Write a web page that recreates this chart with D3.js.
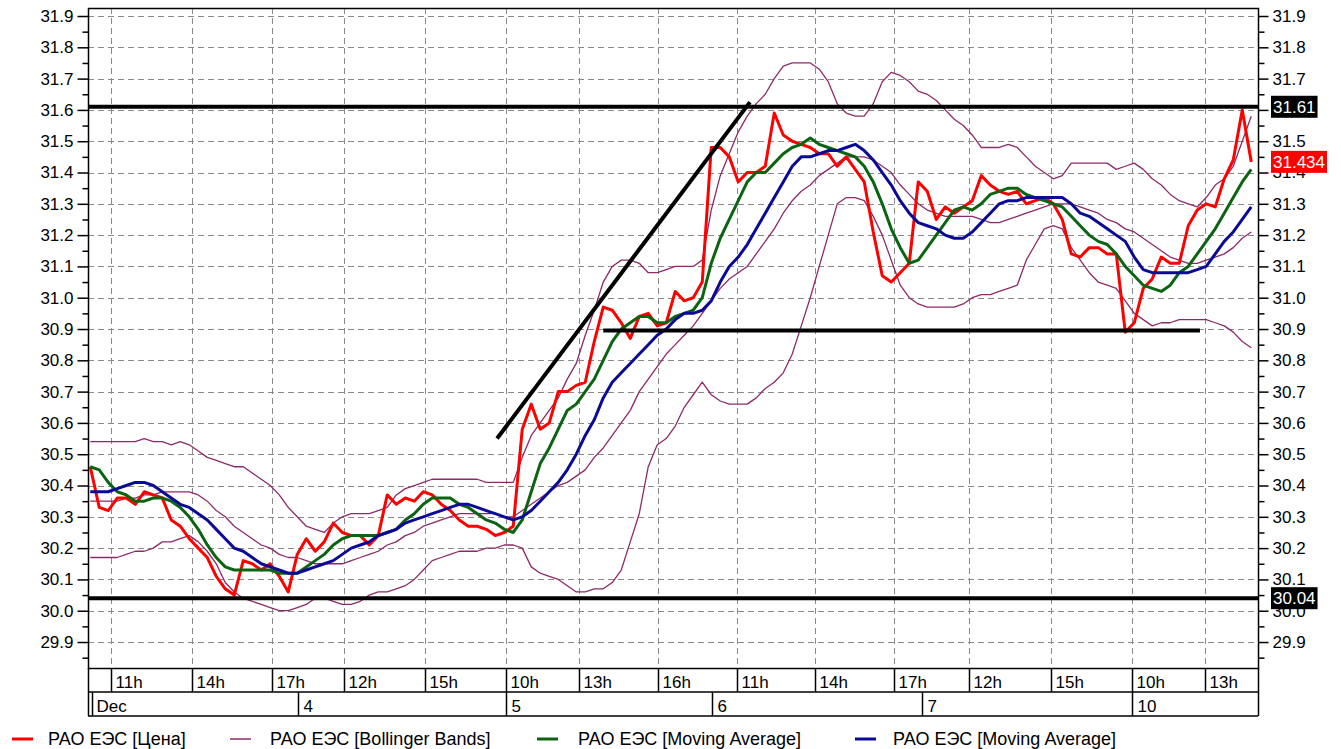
<!DOCTYPE html>
<html>
<head>
<meta charset="utf-8">
<script src="https://cdnjs.cloudflare.com/ajax/libs/d3/7.8.5/d3.min.js"></script>
<style>
body { margin: 0; background: #fff; }
svg text { font-family: "Liberation Sans", Arial, sans-serif; font-size: 17px; fill: #000; }
</style>
</head>
<body>
<svg id="chart" width="1341" height="749"></svg>
<script>
// 20-minute bars, Dec 3 - Dec 10
var price = [30.46,30.33,30.32,30.36,30.36,30.34,30.38,30.37,30.36,30.29,
30.27,30.23,30.20,30.17,30.11,30.07,30.05,30.16,30.15,30.13,
30.15,30.11,30.06,30.18,30.23,30.19,30.22,30.28,30.25,30.24,
30.24,30.21,30.24,30.37,30.34,30.36,30.35,30.38,30.37,30.34,
30.32,30.29,30.27,30.27,30.26,30.24,30.25,30.27,30.58,30.66,
30.58,30.60,30.70,30.70,30.72,30.73,30.86,30.97,30.96,30.92,
30.87,30.94,30.95,30.91,30.92,31.02,30.99,31.00,31.05,31.48,
31.48,31.45,31.37,31.40,31.40,31.42,31.59,31.52,31.50,31.49,
31.48,31.46,31.46,31.42,31.45,31.41,31.37,31.21,31.07,31.05,
31.08,31.11,31.37,31.34,31.25,31.29,31.27,31.29,31.31,31.39,
31.36,31.34,31.33,31.34,31.30,31.31,31.32,31.30,31.25,31.14,
31.13,31.16,31.16,31.14,31.14,30.89,30.92,31.03,31.06,31.13,
31.11,31.11,31.23,31.28,31.30,31.29,31.38,31.44,31.60,31.434];

var bbUpper = [30.54,30.54,30.54,30.54,30.54,30.54,30.55,30.54,30.54,30.53,
30.54,30.53,30.51,30.49,30.48,30.47,30.46,30.46,30.44,30.42,
30.40,30.37,30.33,30.30,30.27,30.26,30.25,30.28,30.30,30.31,
30.31,30.31,30.32,30.33,30.37,30.39,30.40,30.41,30.42,30.42,
30.42,30.42,30.42,30.42,30.41,30.41,30.41,30.41,30.49,30.56,
30.60,30.64,30.68,30.74,30.79,30.88,30.96,31.05,31.10,31.12,
31.12,31.11,31.08,31.08,31.09,31.10,31.10,31.10,31.12,31.28,
31.39,31.46,31.53,31.58,31.62,31.65,31.70,31.74,31.75,31.75,
31.75,31.73,31.69,31.62,31.59,31.58,31.58,31.62,31.69,31.72,
31.71,31.69,31.66,31.65,31.63,31.60,31.57,31.55,31.52,31.48,
31.48,31.48,31.49,31.48,31.45,31.42,31.40,31.38,31.39,31.43,
31.43,31.43,31.43,31.43,31.41,31.42,31.43,31.41,31.38,31.36,
31.33,31.31,31.30,31.29,31.32,31.36,31.38,31.42,31.50,31.58];

var bbMiddle = [30.35,30.35,30.35,30.35,30.36,30.36,30.37,30.37,30.38,30.38,
30.38,30.38,30.37,30.35,30.32,30.30,30.27,30.25,30.23,30.21,
30.20,30.18,30.17,30.17,30.16,30.15,30.15,30.15,30.15,30.16,
30.17,30.18,30.19,30.21,30.22,30.24,30.25,30.27,30.28,30.29,
30.30,30.31,30.31,30.31,30.31,30.31,30.30,30.30,30.32,30.34,
30.36,30.38,30.40,30.41,30.43,30.45,30.49,30.52,30.56,30.60,
30.64,30.70,30.74,30.78,30.82,30.85,30.88,30.91,30.95,30.99,
31.03,31.06,31.08,31.10,31.14,31.18,31.22,31.27,31.31,31.34,
31.36,31.39,31.41,31.43,31.45,31.45,31.45,31.44,31.42,31.40,
31.36,31.33,31.30,31.28,31.27,31.26,31.26,31.26,31.26,31.25,
31.24,31.24,31.25,31.26,31.27,31.28,31.29,31.30,31.30,31.30,
31.29,31.28,31.27,31.25,31.24,31.22,31.21,31.19,31.17,31.15,
31.13,31.12,31.11,31.11,31.12,31.13,31.14,31.16,31.19,31.21];

var bbLower = [30.17,30.17,30.17,30.17,30.18,30.19,30.19,30.20,30.22,30.22,
30.23,30.24,30.22,30.19,30.15,30.09,30.06,30.04,30.03,30.02,
30.01,30.00,30.00,30.01,30.02,30.04,30.04,30.03,30.02,30.02,
30.03,30.05,30.06,30.06,30.07,30.08,30.10,30.13,30.16,30.17,
30.18,30.19,30.19,30.19,30.20,30.20,30.21,30.21,30.20,30.14,
30.12,30.11,30.10,30.08,30.06,30.06,30.07,30.07,30.09,30.13,
30.22,30.31,30.46,30.53,30.55,30.59,30.65,30.69,30.73,30.69,
30.67,30.66,30.66,30.66,30.68,30.71,30.73,30.76,30.82,30.91,
31.00,31.10,31.20,31.30,31.32,31.32,31.31,31.26,31.20,31.12,
31.04,31.00,30.98,30.97,30.97,30.97,30.97,30.98,31.00,31.01,
31.01,31.02,31.03,31.04,31.12,31.17,31.22,31.23,31.22,31.16,
31.12,31.08,31.05,31.04,31.03,30.99,30.95,30.93,30.91,30.92,
30.92,30.93,30.93,30.93,30.93,30.92,30.91,30.89,30.86,30.84];

var maFast = [30.46,30.45,30.41,30.38,30.37,30.35,30.35,30.36,30.36,30.35,
30.33,30.30,30.26,30.21,30.17,30.14,30.13,30.13,30.13,30.13,
30.13,30.12,30.12,30.12,30.14,30.16,30.18,30.21,30.23,30.24,
30.24,30.24,30.24,30.25,30.26,30.29,30.31,30.34,30.36,30.36,
30.36,30.34,30.33,30.31,30.29,30.28,30.26,30.25,30.29,30.38,
30.47,30.52,30.58,30.64,30.66,30.70,30.74,30.80,30.86,30.90,
30.92,30.94,30.94,30.92,30.92,30.94,30.95,30.96,31.00,31.11,
31.19,31.25,31.31,31.37,31.40,31.40,31.43,31.46,31.48,31.49,
31.51,31.49,31.48,31.47,31.46,31.45,31.42,31.37,31.30,31.22,
31.16,31.11,31.12,31.16,31.20,31.24,31.28,31.29,31.28,31.30,
31.33,31.34,31.35,31.35,31.33,31.32,31.31,31.30,31.29,31.26,
31.23,31.20,31.18,31.17,31.14,31.10,31.07,31.04,31.03,31.02,
31.04,31.08,31.10,31.14,31.18,31.22,31.27,31.32,31.37,31.41];

var maSlow = [30.38,30.38,30.38,30.39,30.40,30.41,30.41,30.40,30.38,30.36,
30.34,30.33,30.31,30.29,30.26,30.23,30.20,30.19,30.17,30.15,
30.14,30.13,30.12,30.12,30.13,30.14,30.15,30.16,30.18,30.20,
30.21,30.22,30.24,30.25,30.26,30.28,30.29,30.30,30.31,30.32,
30.33,30.34,30.34,30.33,30.32,30.31,30.30,30.29,30.30,30.32,
30.35,30.38,30.41,30.45,30.50,30.56,30.61,30.68,30.73,30.76,
30.79,30.82,30.85,30.88,30.90,30.93,30.95,30.95,30.96,30.99,
31.05,31.10,31.13,31.17,31.22,31.27,31.32,31.37,31.42,31.45,
31.45,31.46,31.47,31.47,31.48,31.49,31.47,31.44,31.40,31.36,
31.31,31.27,31.24,31.23,31.22,31.20,31.19,31.19,31.21,31.24,
31.27,31.30,31.31,31.31,31.32,31.32,31.32,31.32,31.32,31.30,
31.27,31.26,31.24,31.22,31.20,31.18,31.13,31.09,31.08,31.08,
31.08,31.08,31.08,31.09,31.10,31.14,31.18,31.21,31.25,31.29];

// hand drawn lines (bar index, price)
var levels = [31.61, 30.04];
var supportLine = [[57.0, 30.895], [123.3, 30.895]];
var trendLine = [[45.2, 30.55], [73.3, 31.625]];

var yTicks = [29.9,30.0,30.1,30.2,30.3,30.4,30.5,30.6,30.7,30.8,30.9,31.0,31.1,31.2,31.3,31.4,31.5,31.6,31.7,31.8,31.9];
var yMinor = [29.85,29.95,30.05,30.15,30.25,30.35,30.45,30.55,30.65,30.75,30.85,30.95,31.05,31.15,31.25,31.35,31.45,31.55,31.65,31.75,31.85];

var hourPos = [2.3,11.3,20.2,28.2,37.2,46.2,54.3,63.1,71.9,80.5,89.3,97.6,106.7,115.7,123.9];
var hourLabels = ["11h","14h","17h","12h","15h","10h","13h","16h","11h","14h","17h","12h","15h","10h","13h"];
var dayPos = [-0.25,23.1,46.2,69.1,92.4,115.8];
var dayLabels = ["Dec","4","5","6","7","10"];

var markers = [
	{ value: 31.61, text: "31.61", color: "#000" },
	{ value: 31.434, text: "31.434", color: "#ff0000" },
	{ value: 30.04, text: "30.04", color: "#000" }
];

var legendNames = ["РАО ЕЭС [Цена]", "РАО ЕЭС [Bollinger Bands]", "РАО ЕЭС [Moving Average]", "РАО ЕЭС [Moving Average]"];
var legendColors = ["#ff0000", "#8e2a68", "#0b6411", "#0a0a96"];
var legendX = [12, 230, 537, 855];
var legendTextX = [48, 270, 578, 893];

var svg = d3.select("#chart"),
	margin = {top: 8, left: 88, right: 83, bottom: 81},
	width = 1341 - margin.left - margin.right,
	height = 749 - margin.top - margin.bottom;

var x = d3.scaleLinear().domain([-0.25, 129.75]).range([margin.left, margin.left + width]);
var y = d3.scaleLinear().domain([29.817, 31.9256]).range([margin.top + height, margin.top]);

svg.append("defs").append("clipPath").attr("id", "plotclip")
	.append("rect")
	.attr("x", margin.left).attr("y", margin.top)
	.attr("width", width).attr("height", height);

// grid
var grid = svg.append("g").attr("stroke", "#8a8a8a").attr("stroke-width", 1).attr("stroke-dasharray", "6,4");
grid.selectAll(".hg").data(yTicks).enter().append("line")
	.attr("x1", margin.left).attr("x2", margin.left + width)
	.attr("y1", function(d) { return Math.round(y(d)) + 0.5; })
	.attr("y2", function(d) { return Math.round(y(d)) + 0.5; });
grid.selectAll(".vg").data(hourPos).enter().append("line")
	.attr("y1", margin.top).attr("y2", margin.top + height)
	.attr("x1", function(d) { return Math.round(x(d)) + 0.5; })
	.attr("x2", function(d) { return Math.round(x(d)) + 0.5; });

var line = d3.line()
	.x(function(d, i) { return x(i); })
	.y(function(d) { return y(d); });

var plot = svg.append("g").attr("clip-path", "url(#plotclip)");

[bbUpper, bbMiddle, bbLower].forEach(function(s) {
	plot.append("path").datum(s)
		.attr("fill", "none").attr("stroke", legendColors[1])
		.attr("stroke-width", 1.3).attr("stroke-linejoin", "round")
		.attr("d", line);
});
plot.append("path").datum(price)
	.attr("fill", "none").attr("stroke", legendColors[0])
	.attr("stroke-width", 3).attr("stroke-linejoin", "round")
	.attr("d", line);
plot.append("path").datum(maFast)
	.attr("fill", "none").attr("stroke", legendColors[2])
	.attr("stroke-width", 3).attr("stroke-linejoin", "round")
	.attr("d", line);
plot.append("path").datum(maSlow)
	.attr("fill", "none").attr("stroke", legendColors[3])
	.attr("stroke-width", 3).attr("stroke-linejoin", "round")
	.attr("d", line);

// drawn annotations
var seg = d3.line().x(function(d) { return x(d[0]); }).y(function(d) { return y(d[1]); });
levels.forEach(function(v) {
	plot.append("line")
		.attr("x1", margin.left).attr("x2", margin.left + width)
		.attr("y1", y(v)).attr("y2", y(v))
		.attr("stroke", "#000").attr("stroke-width", 4);
});
plot.append("path").datum(supportLine).attr("d", seg)
	.attr("stroke", "#000").attr("stroke-width", 4).attr("fill", "none");
plot.append("path").datum(trendLine).attr("d", seg)
	.attr("stroke", "#000").attr("stroke-width", 4).attr("fill", "none");

// frame
svg.append("rect")
	.attr("x", margin.left + 0.5).attr("y", margin.top + 0.5)
	.attr("width", width).attr("height", height)
	.attr("fill", "none").attr("stroke", "#000").attr("stroke-width", 1.5);

// y axes
var fmt = d3.format(".1f");
svg.append("g").attr("transform", "translate(" + (margin.left + 0.5) + ",0)")
	.call(d3.axisLeft(y).tickValues(yTicks).tickSize(11).tickSizeOuter(0).tickPadding(4).tickFormat(fmt));
svg.append("g").attr("transform", "translate(" + (margin.left + 0.5) + ",0)")
	.call(d3.axisLeft(y).tickValues(yMinor).tickSize(6).tickSizeOuter(0).tickFormat(""));
// the 31.6 label on the right sits fully under the 31.61 marker
svg.append("g").attr("transform", "translate(" + (margin.left + width + 0.5) + ",0)")
	.call(d3.axisRight(y).tickValues(yTicks).tickSize(10).tickSizeOuter(0).tickPadding(4)
		.tickFormat(function(d) { return d === 31.6 ? "" : fmt(d); }));
svg.append("g").attr("transform", "translate(" + (margin.left + width + 0.5) + ",0)")
	.call(d3.axisRight(y).tickValues(yMinor).tickSize(6).tickSizeOuter(0).tickFormat(""));
svg.selectAll(".domain").remove();
svg.selectAll(".tick line").attr("stroke", "#000").attr("stroke-width", 1.5);
svg.selectAll(".tick text").attr("font-size", 17).attr("font-family", "Liberation Sans, Arial, sans-serif");

// value markers on the right
markers.forEach(function(m) {
	var g = svg.append("g").attr("transform", "translate(" + (margin.left + width + 13) + "," + y(m.value) + ")");
	var t = g.append("text").attr("x", 2).attr("dy", "0.35em").style("fill", "#fff").text(m.text);
	var w = t.node().getComputedTextLength();
	g.insert("rect", "text").attr("x", 0).attr("y", -11).attr("width", w + 4).attr("height", 22).attr("fill", m.color);
});

// time axis bands
var band = svg.append("g").attr("stroke", "#000").attr("stroke-width", 1.5);
var r1 = margin.top + height, r2 = r1 + 24, r3 = r2 + 24;
band.append("line").attr("x1", margin.left).attr("x2", margin.left + width).attr("y1", r2).attr("y2", r2);
band.append("line").attr("x1", margin.left).attr("x2", margin.left + width).attr("y1", r3).attr("y2", r3);
band.append("line").attr("x1", margin.left + 0.5).attr("x2", margin.left + 0.5).attr("y1", r1).attr("y2", r3);
band.append("line").attr("x1", margin.left + width + 0.5).attr("x2", margin.left + width + 0.5).attr("y1", r1).attr("y2", r3);
band.append("line").attr("x1", margin.left + 4.5).attr("x2", margin.left + 4.5).attr("y1", r2).attr("y2", r3);

hourPos.forEach(function(p, i) {
	var xx = Math.round(x(p)) + 0.5;
	band.append("line").attr("x1", xx).attr("x2", xx).attr("y1", r1).attr("y2", r2);
	svg.append("text").attr("x", xx + 4).attr("y", r2 - 4).text(hourLabels[i]);
});
dayPos.forEach(function(p, i) {
	var xx = Math.round(x(p)) + 0.5;
	if (i > 0) band.append("line").attr("x1", xx).attr("x2", xx).attr("y1", r2).attr("y2", r3);
	svg.append("text").attr("x", xx + (i === 0 ? 8 : 5)).attr("y", r3 - 4).text(dayLabels[i]);
});

// legend
legendNames.forEach(function(n, i) {
	var lx = legendX[i], ly = 739;
	svg.append("line").attr("x1", lx).attr("x2", lx + 21).attr("y1", ly).attr("y2", ly)
		.attr("stroke", legendColors[i]).attr("stroke-width", i === 1 ? 1.5 : 3);
	svg.append("text").attr("x", legendTextX[i]).attr("y", ly + 6).style("font-size", "18px").text(n);
});
</script>
</body>
</html>
